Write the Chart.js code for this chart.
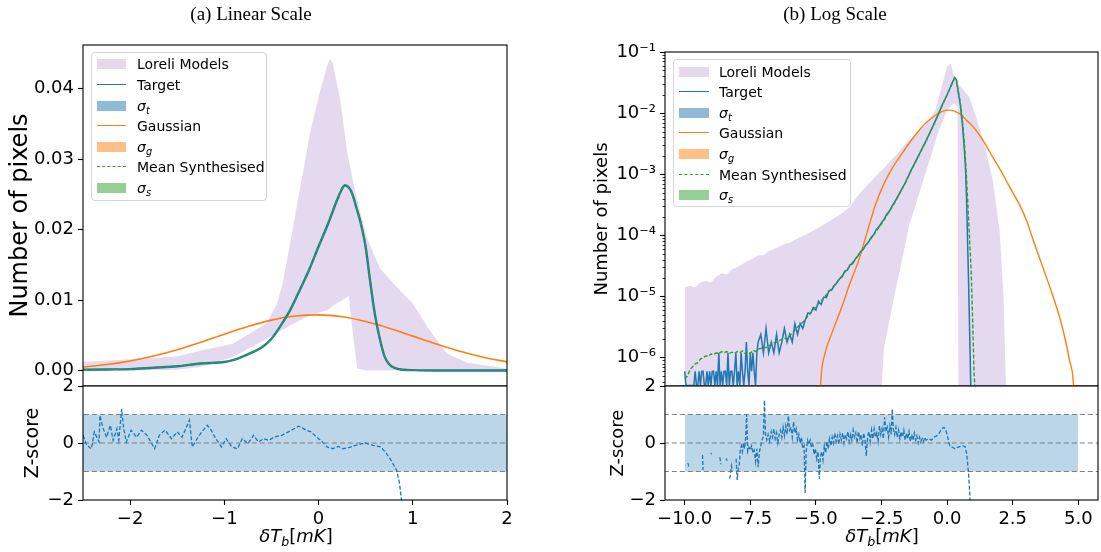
<!DOCTYPE html>
<html><head><meta charset="utf-8">
<script src="https://cdn.jsdelivr.net/npm/chart.js@4.4.1/dist/chart.umd.min.js"></script>
<style>
html,body{margin:0;padding:0;background:#fff;width:1101px;height:552px;overflow:hidden;position:relative;font-family:"DejaVu Sans",sans-serif;color:#000;}
canvas{position:absolute;}
.ttl{position:absolute;font-family:"Liberation Serif","Times New Roman",serif;font-size:19px;white-space:nowrap;transform:translate(-50%,-50%);z-index:5;}
.xt{position:absolute;font-family:"DejaVu Sans",sans-serif;font-size:18px;white-space:nowrap;transform:translate(-50%,-50%);z-index:5;}
.xt sub{font-size:70%;vertical-align:-0.25em;}
.leg{position:absolute;background:rgba(255,255,255,0.8);border:1px solid #d4d4d4;border-radius:4px;box-sizing:border-box;z-index:5;}
.row{position:absolute;left:0;right:0;height:20px;}
.row span{position:absolute;left:45px;top:0;font-size:14px;line-height:20px;white-space:nowrap;}
.row span sub{font-size:70%;vertical-align:-0.3em;}
.hp{position:absolute;left:5px;top:5px;width:29px;height:10px;}
.hl{position:absolute;left:5px;top:9px;width:29px;height:0;}
</style></head><body>
<div class="ttl" style="left:251px;top:14px;">(a) Linear Scale</div>
<div class="ttl" style="left:835px;top:14px;">(b) Log Scale</div>
<div class="xt" style="left:296px;top:537px;"><i>δT<sub>b</sub></i>[<i>mK</i>]</div>
<div class="xt" style="left:882px;top:537px;"><i>δT<sub>b</sub></i>[<i>mK</i>]</div>

<div class="leg" style="left:91px;top:52px;width:176px;height:149px;">
 <div class="row" style="top:1px"><div class="hp" style="background:rgba(148,103,189,0.25)"></div><span>Loreli Models</span></div>
 <div class="row" style="top:22px"><div class="hl" style="border-top:1.6px solid #1f77b4"></div><span>Target</span></div>
 <div class="row" style="top:43px"><div class="hp" style="background:rgba(31,119,180,0.5)"></div><span><i>σ<sub>t</sub></i></span></div>
 <div class="row" style="top:63px"><div class="hl" style="border-top:1.6px solid #ff7f0e"></div><span>Gaussian</span></div>
 <div class="row" style="top:84px"><div class="hp" style="background:rgba(255,127,14,0.5)"></div><span><i>σ<sub>g</sub></i></span></div>
 <div class="row" style="top:104px"><div class="hl" style="border-top:1.6px dashed #2ca02c"></div><span>Mean Synthesised</span></div>
 <div class="row" style="top:125px"><div class="hp" style="background:rgba(44,160,44,0.5)"></div><span><i>σ<sub>s</sub></i></span></div>
</div>
<div class="leg" style="left:673px;top:59px;width:178px;height:148px;">
 <div class="row" style="top:2px"><div class="hp" style="background:rgba(148,103,189,0.25);width:30px"></div><span>Loreli Models</span></div>
 <div class="row" style="top:22px"><div class="hl" style="border-top:1.6px solid #1f77b4;width:30px"></div><span>Target</span></div>
 <div class="row" style="top:43px"><div class="hp" style="background:rgba(31,119,180,0.5);width:30px"></div><span><i>σ<sub>t</sub></i></span></div>
 <div class="row" style="top:63px"><div class="hl" style="border-top:1.6px solid #ff7f0e;width:30px"></div><span>Gaussian</span></div>
 <div class="row" style="top:84px"><div class="hp" style="background:rgba(255,127,14,0.5);width:30px"></div><span><i>σ<sub>g</sub></i></span></div>
 <div class="row" style="top:105px"><div class="hl" style="border-top:1.6px dashed #2ca02c;width:30px"></div><span>Mean Synthesised</span></div>
 <div class="row" style="top:125px"><div class="hp" style="background:rgba(44,160,44,0.5);width:30px"></div><span><i>σ<sub>s</sub></i></span></div>
</div>

<script>
// ---------- value used for empty (zero-count) bins on the log axis: sits on the axis floor ----------
const EMPTY = 3.5e-7;

// ---------- Panel (a): linear scale ----------
const linX = [-2.5,-2.25,-2.0,-1.75,-1.5,-1.25,-1.0,-0.9,-0.8,-0.7,-0.6,-0.5,-0.4,-0.3,-0.2,-0.1,0.0,0.1,0.2,0.25,0.28,0.32,0.36,0.4,0.45,0.5,0.55,0.6,0.65,0.7,0.75,0.8,0.9,1.0,1.25,1.5,1.75,2.0];
const linTarget = [0.0001,0.00015,0.0002,0.0004,0.0006,0.001,0.0012,0.0015,0.002,0.0026,0.0033,0.0045,0.0064,0.0086,0.0114,0.0143,0.0176,0.0208,0.0243,0.0258,0.0263,0.026,0.025,0.0232,0.0208,0.0175,0.0124,0.0078,0.0045,0.002,0.0009,0.0004,0.0001,0.00005,0,0,0,0];
const linMean = [0.0001,0.00015,0.0002,0.0004,0.0006,0.001,0.0012,0.0015,0.002,0.0026,0.0033,0.0045,0.0064,0.0086,0.0114,0.0143,0.0176,0.0209,0.0244,0.0259,0.0262,0.0259,0.0249,0.0232,0.0209,0.0176,0.0125,0.0079,0.0046,0.0021,0.0009,0.0004,0.0001,0.00005,0,0,0,0];
const linGaussX = [-2.5,-2.25,-2.0,-1.75,-1.5,-1.25,-1.0,-0.75,-0.5,-0.25,0.0,0.25,0.5,0.75,1.0,1.25,1.5,1.75,2.0];
const linGauss = [0.0005,0.00085,0.00136,0.00206,0.00296,0.00402,0.00516,0.00624,0.00715,0.00773,0.0079,0.00762,0.00695,0.006,0.00488,0.00376,0.00273,0.00188,0.00122];
const linBandX = [-2.5,-2.0,-1.5,-1.26,-0.91,-0.55,-0.44,-0.38,-0.2,-0.09,0.02,0.09,0.12,0.15,0.23,0.3,0.32,0.36,0.41,0.51,0.65,0.86,1.0,1.18,1.36,1.58,2.0];
const linBandHi = [0.0012,0.0016,0.002,0.0028,0.0038,0.0067,0.0095,0.0124,0.0256,0.0337,0.0399,0.0432,0.0442,0.0437,0.0385,0.0313,0.03,0.0272,0.0242,0.019,0.0145,0.0114,0.0095,0.0057,0.0024,0.0011,0.0003];
const linBandLo = [0,0,0.0001,0.0005,0.0019,0.0045,0.0053,0.0058,0.0071,0.0078,0.0083,0.0085,0.0088,0.0092,0.0098,0.0104,0.0106,0.0058,0.0003,0,0,0,0,0,0,0,0];
const zLinX = [-2.5,-2.46,-2.41,-2.38,-2.33,-2.32,-2.29,-2.25,-2.21,-2.18,-2.14,-2.12,-2.09,-2.07,-2.04,-1.99,-1.93,-1.88,-1.82,-1.74,-1.69,-1.63,-1.56,-1.5,-1.45,-1.41,-1.37,-1.34,-1.29,-1.24,-1.18,-1.14,-1.09,-1.03,-0.98,-0.92,-0.86,-0.81,-0.75,-0.69,-0.64,-0.58,-0.53,-0.47,-0.39,-0.32,-0.26,-0.21,-0.13,-0.08,-0.02,0.04,0.09,0.15,0.21,0.26,0.32,0.39,0.49,0.58,0.66,0.71,0.77,0.83,0.86,0.88];
const zLinY = [0.27,-0.08,-0.2,0.39,0.04,0.97,0.55,0.2,0.62,0.09,0.5,0.1,1.2,0.55,0.03,0.45,0.2,0.45,0.27,-0.2,0.27,0.45,0.15,0.39,0.2,0.5,0.8,-0.14,0.15,0.39,0.62,0.45,0.15,-0.14,0.15,-0.14,-0.2,0.15,-0.02,0.27,0.04,0.15,0.09,0.21,0.27,0.39,0.5,0.59,0.45,0.39,0.21,0.04,-0.14,-0.2,-0.12,-0.2,-0.16,-0.08,0,-0.08,-0.14,-0.32,-0.61,-0.96,-1.43,-2.02];
const zLinBandX = [-3, 3];

// ---------- Panel (b): log scale ----------
const logTargetX = [-10.0,-9.95,-9.9,-9.85,-9.8,-9.75,-9.7,-9.65,-9.6,-9.55,-9.5,-9.45,-9.4,-9.35,-9.3,-9.25,-9.2,-9.15,-9.1,-9.05,-9.0,-8.95,-8.9,-8.85,-8.8,-8.75,-8.7,-8.65,-8.6,-8.55,-8.5,-8.45,-8.4,-8.35,-8.3,-8.25,-8.2,-8.15,-8.1,-8.05,-8.0,-7.95,-7.9,-7.85,-7.8,-7.75,-7.7,-7.65,-7.6,-7.55,-7.5,-7.45,-7.4,-7.35,-7.3,-7.25,
 -7.2,-7.1,-7.0,-6.9,-6.8,-6.7,-6.6,-6.5,-6.4,-6.3,-6.2,-6.1,-6.0,-5.9,-5.8,-5.7,-5.6,-5.5,-5.4,-5.3,
 -5.2,-5.1,-5.0,-4.9,-4.8,-4.7,-4.6,-4.5,-4.4,-4.3,-4.2,-4.1,-4.0,-3.9,-3.8,-3.7,-3.6,-3.5,-3.4,-3.3,-3.2,-3.1,-3.0,-2.9,-2.8,-2.7,-2.6,-2.5,-2.4,-2.3,-2.2,-2.1,-2.0,
 -1.8,-1.6,-1.4,-1.2,-1.0,-0.8,-0.6,-0.4,-0.2,0.0,
 0.1,0.2,0.29,0.35,0.42,0.5,0.58,0.65,0.7,0.74,0.77,0.82,0.87,0.9];
const logTarget = [6e-7,EMPTY,EMPTY,EMPTY,EMPTY,EMPTY,EMPTY,EMPTY,6e-7,EMPTY,EMPTY,6e-7,EMPTY,6e-7,6e-7,EMPTY,EMPTY,6e-7,EMPTY,6e-7,EMPTY,6e-7,6e-7,EMPTY,6e-7,EMPTY,1.2e-6,EMPTY,6e-7,EMPTY,6e-7,6e-7,EMPTY,1.2e-6,EMPTY,6e-7,6e-7,EMPTY,6e-7,1.2e-6,EMPTY,6e-7,EMPTY,1.2e-6,6e-7,EMPTY,6e-7,1.8e-6,6e-7,EMPTY,1.2e-6,6e-7,1.2e-6,6e-7,EMPTY,1.2e-6,
 1.8e-6,2.4e-6,1.2e-6,3.0e-6,1.2e-6,1.8e-6,1.2e-6,2.4e-6,1.2e-6,1.8e-6,3.0e-6,1.8e-6,2.4e-6,1.8e-6,3.6e-6,2.4e-6,3.6e-6,3.0e-6,4.2e-6,5.4e-6,
 5.25e-6,6.6e-6,6.0e-6,8.4e-6,7.4e-6,9.8e-6,9.6e-6,1.25e-5,1.28e-5,1.5e-5,1.68e-5,1.95e-5,2.1e-5,2.6e-5,2.7e-5,3.3e-5,3.45e-5,4.1e-5,4.6e-5,5.4e-5,5.9e-5,7.0e-5,7.7e-5,9.2e-5,1.02e-4,1.24e-4,1.38e-4,1.62e-4,1.84e-4,2.22e-4,2.48e-4,3.02e-4,3.5e-4,
 5.0e-4,7.2e-4,1.1e-3,1.62e-3,2.4e-3,3.55e-3,5.4e-3,8.3e-3,1.32e-2,2.0e-2,
 2.5e-2,3.16e-2,3.8e-2,3.55e-2,2.24e-2,1.41e-2,6.8e-3,2.8e-3,1.3e-3,4.3e-4,1.2e-4,1.58e-5,1.58e-6,EMPTY];
const logMeanX = [-10.0,-9.9,-9.8,-9.7,-9.6,-9.5,-9.4,-9.3,-9.2,-9.1,-9.0,-8.9,-8.8,-8.7,-8.6,-8.5,-8.4,-8.3,-8.2,-8.1,-8.0,-7.9,-7.8,-7.7,-7.6,-7.5,-7.4,-7.3,-7.2,-7.1,-7.0,-6.9,-6.8,-6.7,-6.6,-6.5,-6.4,-6.3,-6.2,-6.1,-6.0,-5.9,-5.8,-5.7,-5.6,-5.5,-5.4,-5.3,
 -5.2,-5.1,-5.0,-4.9,-4.8,-4.7,-4.6,-4.5,-4.4,-4.3,-4.2,-4.1,-4.0,-3.9,-3.8,-3.7,-3.6,-3.5,-3.4,-3.3,-3.2,-3.1,-3.0,-2.9,-2.8,-2.7,-2.6,-2.5,-2.4,-2.3,-2.2,-2.1,-2.0,
 -1.8,-1.6,-1.4,-1.2,-1.0,-0.8,-0.6,-0.4,-0.2,0.0,
 0.1,0.2,0.29,0.35,0.42,0.5,0.58,0.65,0.72,0.78,0.84,0.92,0.98,1.03,1.06];
const logMean = [4.47e-7,5.0e-7,6.3e-7,7.1e-7,7.9e-7,8.3e-7,9.5e-7,1.0e-6,1.07e-6,1.05e-6,1.15e-6,1.12e-6,1.2e-6,1.15e-6,1.26e-6,1.2e-6,1.26e-6,1.17e-6,1.23e-6,1.17e-6,1.26e-6,1.2e-6,1.29e-6,1.17e-6,1.26e-6,1.17e-6,1.32e-6,1.26e-6,1.38e-6,1.41e-6,1.51e-6,1.45e-6,1.58e-6,1.62e-6,1.74e-6,1.78e-6,1.9e-6,2.0e-6,2.09e-6,2.0e-6,2.29e-6,2.51e-6,2.82e-6,3.16e-6,3.47e-6,3.8e-6,4.27e-6,4.79e-6,
 5.4e-6,6.1e-6,6.8e-6,7.6e-6,8.5e-6,9.5e-6,1.07e-5,1.2e-5,1.35e-5,1.52e-5,1.72e-5,1.95e-5,2.2e-5,2.5e-5,2.82e-5,3.2e-5,3.6e-5,4.1e-5,4.65e-5,5.3e-5,6.0e-5,6.8e-5,7.8e-5,8.9e-5,1.02e-4,1.17e-4,1.35e-4,1.55e-4,1.8e-4,2.1e-4,2.45e-4,2.9e-4,3.4e-4,
 4.9e-4,7.1e-4,1.08e-3,1.6e-3,2.38e-3,3.5e-3,5.35e-3,8.2e-3,1.3e-2,1.98e-2,
 2.5e-2,3.14e-2,3.8e-2,3.63e-2,2.4e-2,1.51e-2,7.9e-3,3.55e-3,1.26e-3,3.98e-4,1.2e-4,2.5e-5,3.16e-6,5.0e-7,EMPTY];
const logGaussX = [-4.88,-4.8,-4.66,-4.4,-4.02,-3.7,-3.37,-3.05,-2.73,-2.4,-2.09,-1.75,-1.46,-1.1,-0.82,-0.5,-0.18,0.08,0.44,0.75,1.1,1.42,1.74,2.06,2.38,2.76,3.02,3.3,3.65,4.0,4.29,4.5,4.67,4.8,4.88];
const logGauss = [1e-7,5.0e-7,1.15e-6,2.45e-6,6.6e-6,1.66e-5,3.9e-5,1.12e-4,3.16e-4,7.1e-4,1.26e-3,2.09e-3,3.16e-3,5.0e-3,6.8e-3,8.9e-3,1.07e-2,1.12e-2,1.0e-2,7.6e-3,5.25e-3,3.3e-3,1.9e-3,1.12e-3,6.2e-4,3.16e-4,1.78e-4,7.9e-5,3.0e-5,1.12e-5,4.57e-6,2.0e-6,8.9e-7,4.47e-7,1e-7];
const logBandX = [-10.0,-9.8,-9.6,-9.4,-9.2,-9.0,-8.8,-8.6,-8.4,-8.2,-8.0,-7.8,-7.6,-7.4,-7.2,-7.0,-6.8,-6.6,-6.4,-6.2,-6.0,-5.8,-5.6,-5.3,-5.0,-4.6,-4.0,-3.7,-3.4,-3.0,-2.6,-2.49,-2.41,-1.97,-1.72,-1.46,-0.82,-0.44,-0.31,0.0,0.14,0.27,0.40,0.43,0.84,1.1,1.48,1.74,2.0,2.15,2.25];
const logBandHi = [1.4e-5,1.5e-5,1.4e-5,1.7e-5,1.8e-5,1.7e-5,2.1e-5,2.4e-5,2.3e-5,2.8e-5,3.0e-5,3.4e-5,3.8e-5,4.2e-5,4.7e-5,4.8e-5,5.5e-5,6.0e-5,6.5e-5,7.2e-5,7.6e-5,8.5e-5,9.3e-5,1.07e-4,1.26e-4,1.6e-4,2.3e-4,2.95e-4,4.5e-4,6.9e-4,1.05e-3,1.15e-3,1.25e-3,2.0e-3,2.7e-3,3.6e-3,6.3e-3,1.12e-2,1.86e-2,5.8e-2,6.5e-2,4.0e-2,3.1e-2,3.0e-2,1.86e-2,8.7e-3,2.45e-3,7.9e-4,1.2e-4,1.0e-5,2.5e-7];
const logBandLo = [EMPTY,EMPTY,EMPTY,EMPTY,EMPTY,EMPTY,EMPTY,EMPTY,EMPTY,EMPTY,EMPTY,EMPTY,EMPTY,EMPTY,EMPTY,EMPTY,EMPTY,EMPTY,EMPTY,EMPTY,EMPTY,EMPTY,EMPTY,EMPTY,EMPTY,EMPTY,EMPTY,EMPTY,EMPTY,EMPTY,EMPTY,EMPTY,1.4e-6,1.26e-5,3.9e-5,1.4e-4,1.05e-3,3.5e-3,5.2e-3,1.12e-2,1.3e-2,1.45e-2,1.26e-2,EMPTY,EMPTY,EMPTY,EMPTY,EMPTY,EMPTY,EMPTY,EMPTY];
const zLogX = [-9.88,-9.84,-9.6,-9.32,-9.3,-9.15,-9.0,-8.98,-8.8,-8.66,-8.62,-8.5,-8.42,-8.38,-8.34,-8.3,-8.26,-8.22,-8.18,-8.1,
 -8.04,-8.0,-7.96,-7.92,-7.88,-7.84,-7.8,-7.76,-7.72,-7.68,-7.64,-7.6,-7.55,-7.5,-7.45,-7.4,-7.35,-7.3,-7.25,-7.2,-7.15,-7.1,-7.05,-7.0,-6.96,-6.92,-6.87,-6.82,-6.76,-6.7,-6.65,-6.6,-6.55,-6.5,-6.45,-6.4,-6.35,-6.3,-6.25,-6.2,-6.15,-6.1,-6.05,-6.0,-5.95,-5.9,-5.85,-5.8,-5.75,-5.7,-5.65,-5.6,-5.55,-5.5,-5.45,-5.41,-5.37,-5.32,-5.27,-5.22,-5.17,-5.12,-5.07,-5.02,-4.97,-4.92,-4.87,-4.83,-4.78,-4.73,-4.68,-4.63,-4.58,-4.53,-4.48,-4.43,-4.38,-4.33,-4.28,-4.23,-4.18,-4.13,-4.08,-4.03,-3.98,-3.93,-3.88,-3.83,-3.78,-3.73,-3.68,-3.63,-3.58,-3.53,-3.48,-3.43,-3.38,-3.33,-3.28,-3.23,-3.18,-3.13,-3.08,-3.03,-2.98,-2.93,-2.88,-2.83,-2.78,-2.73,-2.68,-2.63,-2.58,-2.53,-2.48,-2.43,-2.38,-2.33,-2.28,-2.23,-2.18,-2.13,-2.09,-2.05,-2.0,-1.95,-1.9,-1.85,-1.8,-1.75,-1.7,-1.65,-1.6,-1.55,-1.5,-1.45,-1.4,-1.35,-1.3,-1.25,-1.2,-1.15,-1.1,-1.05,-1.0,-0.95,-0.9,-0.85,-0.8,-0.7,-0.6,-0.5,-0.4,-0.3,-0.2,-0.12,-0.05,0.0,0.05,0.1,0.2,0.3,0.4,0.5,0.6,0.68,0.74,0.78,0.82,0.85,0.88];
const zLogY = [-0.7,-0.82,null,-0.42,-0.95,null,-0.35,-0.4,null,-0.5,-0.75,null,-0.55,-0.62,null,-1.25,-1.15,-0.8,-1.0,null,
 -0.55,-1.3,-0.9,-0.75,-0.25,-0.1,-0.3,0.0,-0.2,0.15,1.0,-0.3,-0.15,-0.25,-0.1,-0.35,-0.25,-0.65,-0.2,-0.85,-0.3,-0.1,0.1,0.25,1.5,0.3,0.1,0.3,0.05,0.4,0.2,0.5,0.15,0.35,0.0,0.3,0.45,0.2,0.55,0.25,0.6,0.3,0.95,0.45,0.55,0.2,0.75,0.35,0.5,0.1,0.3,0.0,0.2,-0.2,-0.1,-1.75,-0.3,0.1,-0.05,0.1,-0.15,-0.05,-0.4,-0.2,-0.55,-0.3,-1.25,-0.5,-0.3,-0.6,-0.1,-0.35,0.05,-0.2,0.15,-0.1,0.2,0.0,0.35,0.05,0.25,-0.05,0.3,0.1,0.35,0.0,0.3,0.15,0.4,0.05,0.3,0.1,0.45,0.2,0.35,0.0,0.4,0.15,0.3,-0.1,0.35,0.1,-0.45,0.2,0.4,0.05,0.45,0.15,0.5,0.2,0.35,0.05,0.6,0.3,0.5,0.15,0.9,0.4,0.55,0.2,0.6,0.3,1.2,0.5,0.3,0.55,0.2,0.45,0.15,0.4,0.2,0.45,0.1,0.35,0.15,0.4,0.05,0.3,0.1,0.35,0.1,0.25,0.0,0.2,0.05,0.15,0.05,0.2,0.1,0.15,0.1,0.2,0.25,0.35,0.5,0.55,0.45,0.3,0.1,-0.1,-0.15,-0.2,-0.15,-0.12,-0.1,-0.12,-0.35,-0.7,-1.1,-1.55,-2.05];
const zLogBandX = [-10, 5];

// ---------- shared z-score guides and ticks ----------
const zBandHi = [1, 1];
const zBandLo = [-1, -1];
const zGuideX = [-30, 30];
const zGuideLevels = [1, 0, -1];
const zTicks = [-2, 0, 2];
const zTickLabels = ['\u22122', '0', '2'];
const linXTicks = [-2, -1, 0, 1, 2];
const linXTickLabels = ['\u22122', '\u22121', '0', '1', '2'];
const linYTicks = [0, 0.01, 0.02, 0.03, 0.04];
const linYTickLabels = ['0.00', '0.01', '0.02', '0.03', '0.04'];
const logXTicks = [-10, -7.5, -5, -2.5, 0, 2.5, 5];
const logXTickLabels = ['\u221210.0', '\u22127.5', '\u22125.0', '\u22122.5', '0.0', '2.5', '5.0'];
const logYTicks = [1e-6, 1e-5, 1e-4, 1e-3, 1e-2, 1e-1];
const logYTickLabels = ['10\u207B\u2076', '10\u207B\u2075', '10\u207B\u2074', '10\u207B\u00B3', '10\u207B\u00B2', '10\u207B\u00B9'];

// ---------- styling ----------
const BLUE = '#1f77b4', ORANGE = '#ff7f0e', GREEN = '#2ca02c';
const PURPLE = 'rgba(148,103,189,0.25)', ZBAND = 'rgba(31,119,180,0.3)';
const FONT = 'DejaVu Sans';

function pts(xs, ys) { const n = Math.min(xs.length, ys.length); const o = []; for (let i = 0; i < n; i++) o.push({x: xs[i], y: ys[i]}); return o; }

const frame = { id: 'frame', afterDatasetsDraw(chart) {
  const {ctx, chartArea: a} = chart; ctx.save(); ctx.strokeStyle = '#000'; ctx.lineWidth = 1.1;
  ctx.strokeRect(a.left, a.top, a.right - a.left, a.bottom - a.top); ctx.restore(); } };
const minorLog = { id: 'minorLog', afterDraw(chart) {
  const s = chart.scales.y; if (s.type !== 'logarithmic') return;
  const ctx = chart.ctx; ctx.save(); ctx.strokeStyle = '#000'; ctx.lineWidth = 0.8;
  for (let e = -7; e <= -2; e++) for (let m = 2; m <= 9; m++) {
    const v = m * Math.pow(10, e); if (v < s.min || v > s.max) continue;
    const y = Math.round(s.getPixelForValue(v)) + 0.5;
    ctx.beginPath(); ctx.moveTo(s.right - 2.5, y); ctx.lineTo(s.right, y); ctx.stroke(); }
  ctx.restore(); } };

function tickCommon(labels, size) {
  return { autoSkip: false, maxRotation: 0, minRotation: 0, padding: 4, color: '#000', font: {family: FONT, size: size}, callback: (v, i) => labels[i] };
}
const gridCommon = { display: true, drawOnChartArea: false, drawTicks: true, tickLength: 5, tickColor: '#000', tickWidth: 1.1, color: 'rgba(0,0,0,0)' };

function xScale(min, max, ticks, labels, show) {
  return { type: 'linear', min: min, max: max, display: show, bounds: 'data',
    afterBuildTicks: s => { s.ticks = ticks.map(v => ({value: v})); },
    afterFit: s => { if (show) s.height = 52; s.paddingLeft = 0; s.paddingRight = 0; },
    ticks: tickCommon(labels, 18), grid: gridCommon, border: {display: false} };
}
function yScale(type, min, max, ticks, labels, width, title, tsize, tpad) {
  return { type: type, min: min, max: max, bounds: 'data',
    afterBuildTicks: s => { s.ticks = ticks.map(v => ({value: v})); },
    afterFit: s => { s.width = width; s.paddingTop = 0; s.paddingBottom = 0; },
    ticks: tickCommon(labels, 18), grid: gridCommon, border: {display: false},
    title: { display: true, text: title, color: '#000', font: {family: FONT, size: tsize}, padding: {top: tpad, bottom: 0} } };
}

function mkCanvas(left, top, w, h) {
  const c = document.createElement('canvas'); c.width = w; c.height = h;
  c.style.left = left + 'px'; c.style.top = top + 'px'; c.style.width = w + 'px'; c.style.height = h + 'px';
  document.body.insertBefore(c, document.body.firstChild); return c;
}
function makeChart(canvas, datasets, scales, padTop, padRight) {
  return new Chart(canvas.getContext('2d'), {
    type: 'line', data: { datasets: datasets },
    options: { responsive: false, animation: false, devicePixelRatio: 1, events: [],
      layout: { padding: {top: padTop, right: padRight, left: 0, bottom: 0} },
      elements: { point: {radius: 0}, line: {tension: 0} },
      plugins: { legend: {display: false}, tooltip: {enabled: false} },
      scales: scales },
    plugins: [frame, minorLog] });
}
function line(data, color, width, dash, smooth) {
  return { data: data, borderColor: color, borderWidth: width, borderDash: dash || [], fill: false, pointRadius: 0,
    cubicInterpolationMode: smooth ? 'monotone' : 'default' };
}
function bandPair(xs, hi, lo, color) {
  return [ { data: pts(xs, hi), borderWidth: 0, borderColor: 'rgba(0,0,0,0)', backgroundColor: color, fill: '+1', pointRadius: 0 },
           { data: pts(xs, lo), borderWidth: 0, borderColor: 'rgba(0,0,0,0)', fill: false, pointRadius: 0 } ];
}
function zDatasets(zx, zy, bandX) {
  const guides = zGuideLevels.map(l => line(pts(zGuideX, [l, l]), '#808080', 1.2, [5, 3]));
  return [ line(pts(zx, zy), BLUE, 1.3, [4, 2]) ].concat(guides, bandPair(bandX, zBandHi, zBandLo, ZBAND));
}

// ---------- Panel (a) ----------
makeChart(mkCanvas(0, 0, 520, 386), [
  line(pts(linX, linMean), GREEN, 1.5, [5, 2.5], true),
  line(pts(linX, linTarget), BLUE, 2.4, [], true),
  line(pts(linGaussX, linGauss), ORANGE, 1.6, [], true),
].concat(bandPair(linBandX, linBandHi, linBandLo, PURPLE)), {
  x: xScale(-2.5, 2, linXTicks, linXTickLabels, false),
  y: yScale('linear', -0.0022, 0.0462, linYTicks, linYTickLabels, 83, 'Number of pixels', 24, 6.6)
}, 45, 13);

makeChart(mkCanvas(0, 370, 520, 182), zDatasets(zLinX, zLinY, zLinBandX), {
  x: xScale(-2.5, 2, linXTicks, linXTickLabels, true),
  y: yScale('linear', -2, 2, zTicks, zTickLabels, 83, 'Z-score', 19, 22)
}, 16, 13);

// ---------- Panel (b) ----------
makeChart(mkCanvas(560, 0, 541, 386), [
  line(pts(logMeanX, logMean), GREEN, 1.4, [4, 2]),
  line(pts(logTargetX, logTarget), BLUE, 1.5, []),
  line(pts(logGaussX, logGauss), ORANGE, 1.4, [], true),
].concat(bandPair(logBandX, logBandHi, logBandLo, PURPLE)), {
  x: xScale(-10.75, 5.75, logXTicks, logXTickLabels, false),
  y: yScale('logarithmic', 3.44e-7, 0.1, logYTicks, logYTickLabels, 105, 'Number of pixels', 18, 32)
}, 52, 3);

makeChart(mkCanvas(560, 370, 541, 182), zDatasets(zLogX, zLogY, zLogBandX), {
  x: xScale(-10.75, 5.75, logXTicks, logXTickLabels, true),
  y: yScale('linear', -2, 2, zTicks, zTickLabels, 105, 'Z-score', 18, 48)
}, 16, 3);
</script>
</body></html>
